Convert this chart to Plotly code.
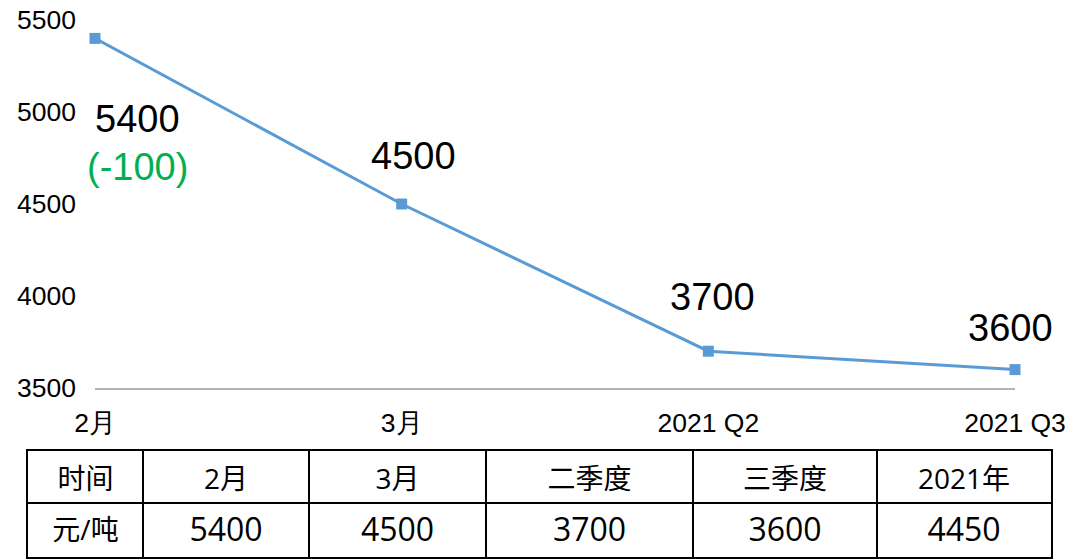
import plotly.graph_objects as go

# ---- data ----
categories = ["2月", "3月", "2021 Q2", "2021 Q3"]
prices = [5400, 4500, 3700, 3600]
changes = ["(-100)", "", "", ""]
y_ticks = [3500, 4000, 4500, 5000, 5500]

table_header = ["时间", "2月", "3月", "二季度", "三季度", "2021年"]
table_row = ["元/吨", "5400", "4500", "3700", "3600", "4450"]

# ---- style ----
W, H = 1080, 560
BLUE = "#5B9BD5"
GREEN = "#00B050"
LATIN = "Liberation Sans, Arial, sans-serif"
TABLE_FONT = "Open Sans, Noto Sans CJK SC, sans-serif"

# label offsets (pixels) relative to each point
label_dx = [42, 12, 4, -5]
label_dy = [-81, 48, 54, 42]
change_dy = -129

# table geometry (pixel widths of columns, heights of rows)
col_widths = [115, 166, 177, 207, 184, 174]
row_heights = [54, 52]  # value row (bottom), header row (top)
header_size = 28
value_sizes = [28, 32, 32, 32, 32, 32]
header_nudge = -5   # px downward shift of header text
value_nudge = -3

fig = go.Figure()

fig.add_trace(go.Scatter(
    x=categories, y=prices, mode="lines+markers",
    line=dict(color=BLUE, width=3),
    marker=dict(symbol="square", size=11, color=BLUE),
    cliponaxis=False, showlegend=False, hoverinfo="skip",
))

annotations = []
for c, v, dx, dy, ch in zip(categories, prices, label_dx, label_dy, changes):
    annotations.append(dict(
        x=c, y=v, xref="x", yref="y", text=str(v), showarrow=False,
        xshift=dx, yshift=dy, xanchor="center", yanchor="middle",
        font=dict(family=LATIN, size=38, color="#000000"),
    ))
    if ch:
        annotations.append(dict(
            x=c, y=v, xref="x", yref="y", text=ch, showarrow=False,
            xshift=dx, yshift=change_dy, xanchor="center", yanchor="middle",
            font=dict(family=LATIN, size=38, color=GREEN),
        ))

# ---- table drawn on its own axes ----
bounds = [0]
for w in col_widths:
    bounds.append(bounds[-1] + w)
col_centers = [(a + b) / 2 for a, b in zip(bounds[:-1], bounds[1:])]
row_split = row_heights[0]
total_h = sum(row_heights)
header_y = row_split + row_heights[1] / 2 + header_nudge
value_y = row_split / 2 + value_nudge

fig.add_trace(go.Scatter(
    x=col_centers + col_centers,
    y=[header_y] * len(table_header) + [value_y] * len(table_row),
    text=table_header + table_row,
    mode="text", textposition="middle center",
    textfont=dict(family=TABLE_FONT,
                  size=[header_size] * len(table_header) + value_sizes,
                  color="#000000"),
    xaxis="x2", yaxis="y2", showlegend=False, hoverinfo="skip",
    cliponaxis=False,
))

fig.update_layout(
    width=W, height=H,
    margin=dict(l=0, r=0, t=0, b=0),
    paper_bgcolor="white", plot_bgcolor="white",
    showlegend=False,
    annotations=annotations,
    xaxis=dict(
        domain=[95 / W, 1015 / W], range=[0, 3], type="category",
        showgrid=False, zeroline=False, automargin=False,
        showline=True, linecolor="#B4B4B4", linewidth=2,
        ticks="", ticklabelstandoff=10,
        tickfont=dict(family=LATIN, size=26.5, color="#000000"),
    ),
    yaxis=dict(
        domain=[1 - 388 / H, 1 - 20 / H], range=[3500, 5500],
        tickvals=y_ticks, showgrid=False, zeroline=False, showline=False,
        automargin=False,
        ticks="", ticklabelstandoff=18,
        tickfont=dict(family=LATIN, size=26.5, color="#000000"),
    ),
    xaxis2=dict(
        domain=[28 / W, 1051 / W], range=[0, bounds[-1]],
        anchor="y2", automargin=False,
        tickvals=bounds[1:-1], showticklabels=False, ticks="",
        showgrid=True, gridcolor="#000000", gridwidth=2,
        zeroline=False, showline=True, mirror=True,
        linecolor="#000000", linewidth=2,
    ),
    yaxis2=dict(
        domain=[1 - 557 / H, 1 - 451 / H], range=[0, total_h],
        anchor="x2", automargin=False,
        tickvals=[row_split], showticklabels=False, ticks="",
        showgrid=True, gridcolor="#000000", gridwidth=2,
        zeroline=False, showline=True, mirror=True,
        linecolor="#000000", linewidth=2,
    ),
)

fig.write_html("out.html", config={"displayModeBar": False},
               post_script="document.body.style.margin='0';")
